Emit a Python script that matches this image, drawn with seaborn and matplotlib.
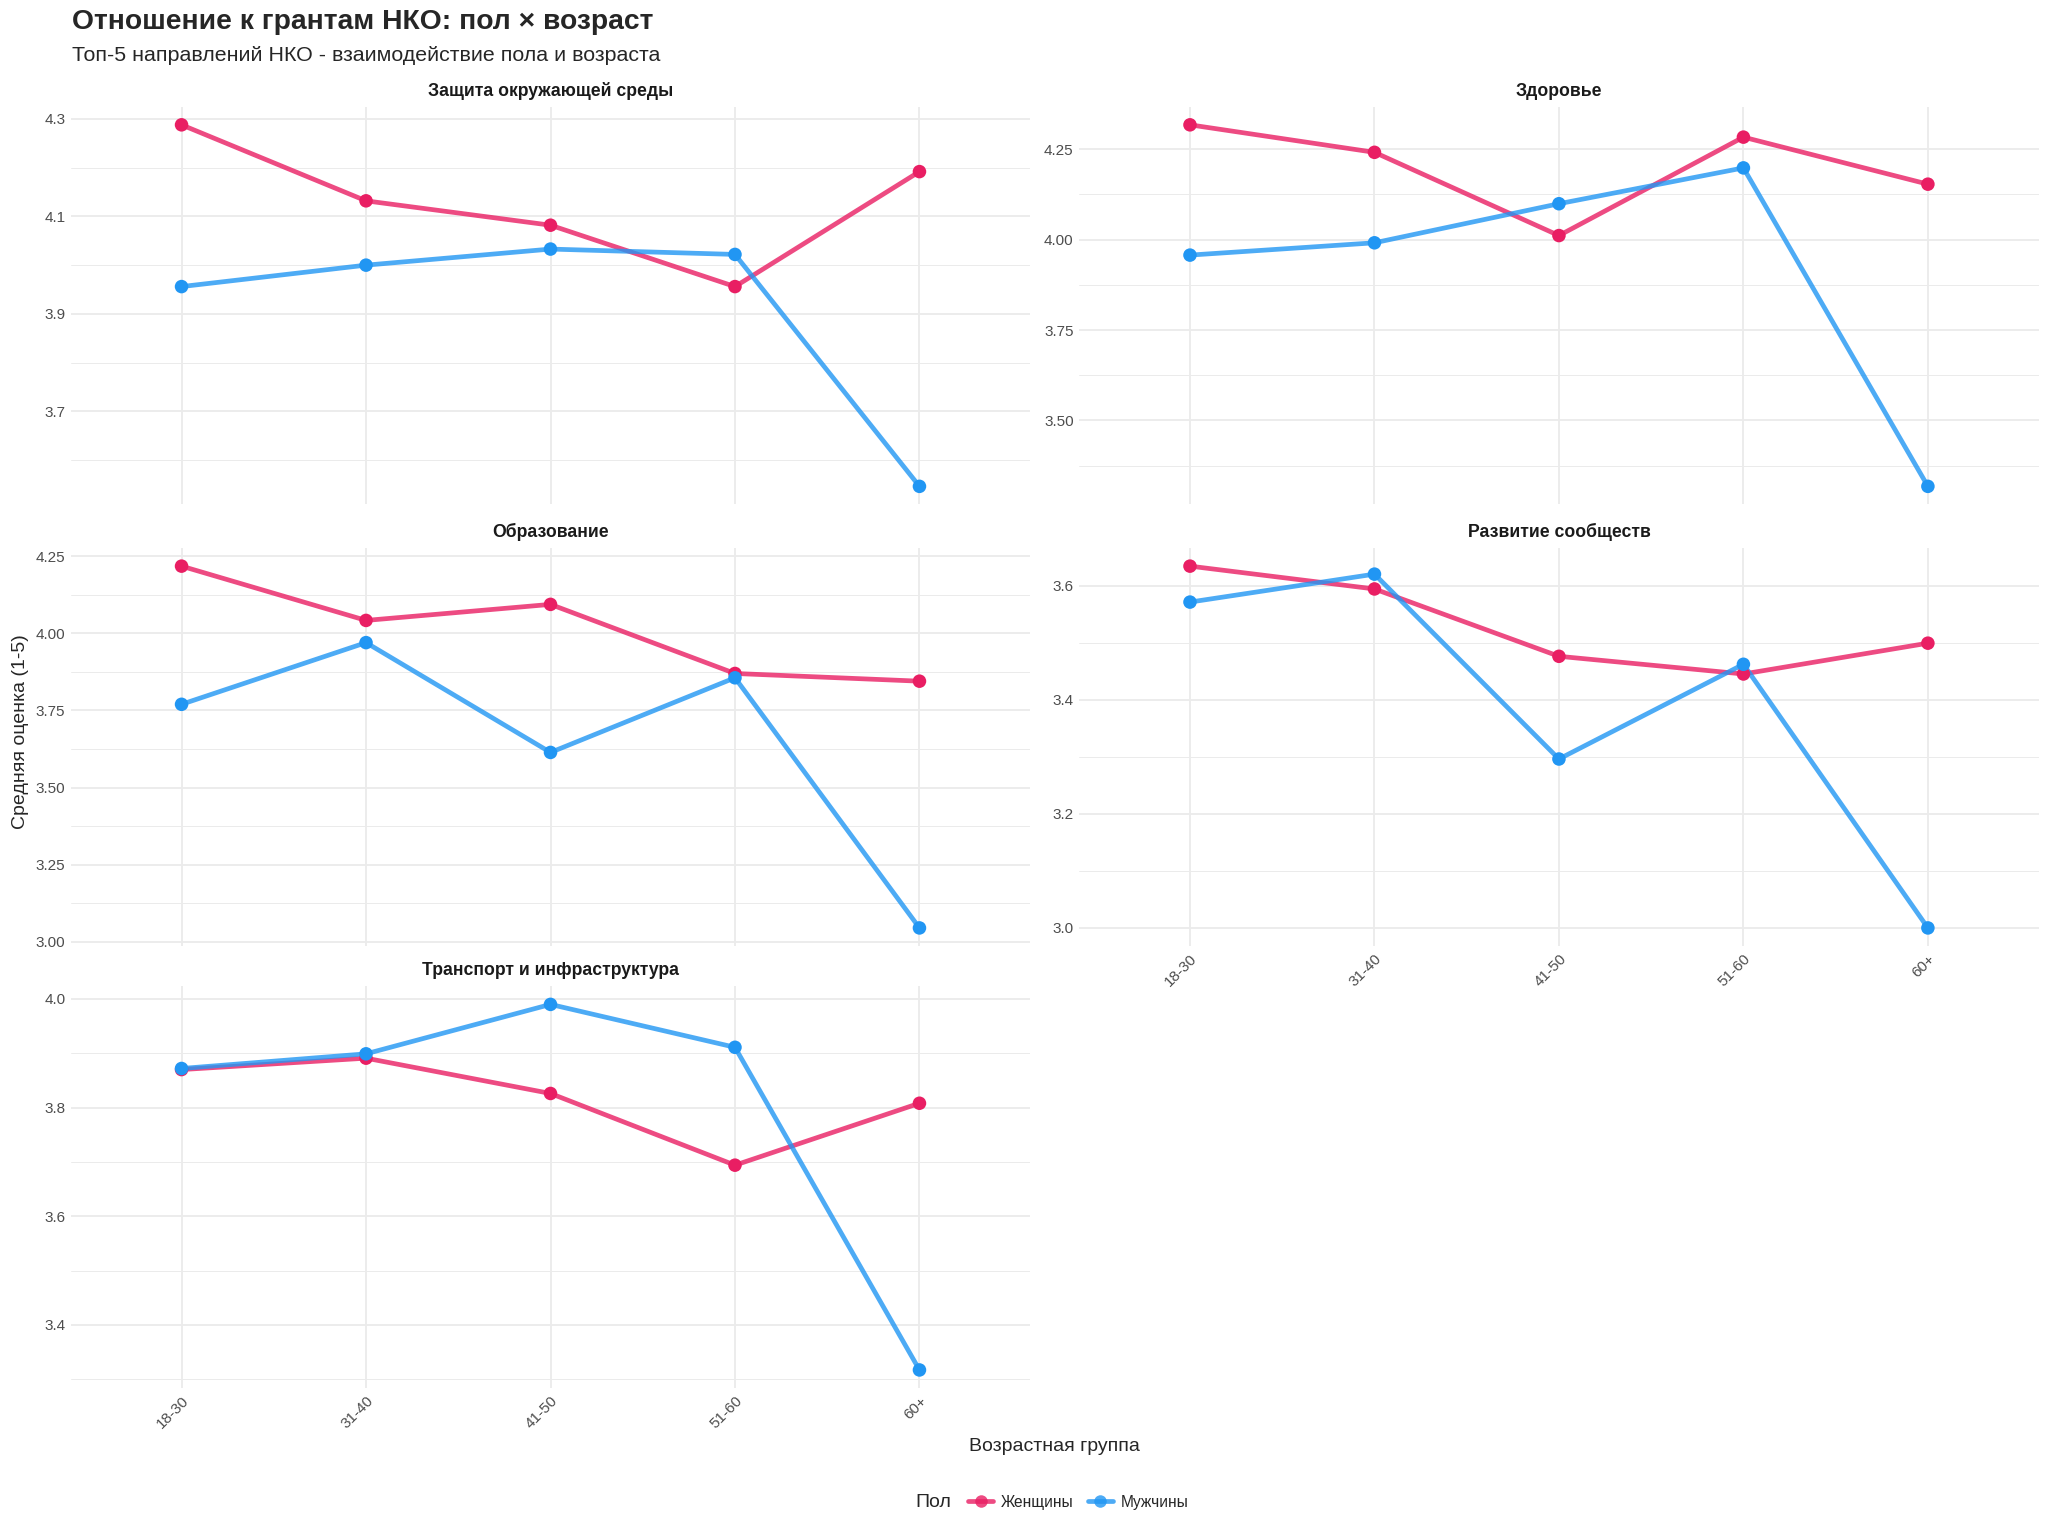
import pandas as pd
import matplotlib.pyplot as plt
import seaborn as sns
from matplotlib.lines import Line2D
from matplotlib.ticker import MultipleLocator, AutoMinorLocator, FormatStrFormatter

# age groups and top-5 NGO directions
ages = ['18-30', '31-40', '41-50', '51-60', '60+']
directions = ['Защита окружающей среды', 'Здоровье', 'Образование',
              'Развитие сообществ', 'Транспорт и инфраструктура']
genders = ['Женщины', 'Мужчины']

# mean score (1-5) per age group
env_women = [4.288, 4.132, 4.082, 3.956, 4.192]
env_men = [3.956, 4.000, 4.033, 4.022, 3.546]
health_women = [4.317, 4.241, 4.011, 4.283, 4.153]
health_men = [3.957, 3.991, 4.099, 4.198, 3.318]
edu_women = [4.218, 4.042, 4.094, 3.870, 3.845]
edu_men = [3.770, 3.970, 3.614, 3.856, 3.045]
comm_women = [3.634, 3.594, 3.476, 3.445, 3.499]
comm_men = [3.571, 3.620, 3.296, 3.462, 3.000]
trans_women = [3.870, 3.891, 3.826, 3.694, 3.808]
trans_men = [3.872, 3.899, 3.990, 3.911, 3.317]

series = {
    directions[0]: (env_women, env_men),
    directions[1]: (health_women, health_men),
    directions[2]: (edu_women, edu_men),
    directions[3]: (comm_women, comm_men),
    directions[4]: (trans_women, trans_men),
}

rows = []
for d in directions:
    for g, vals in zip(genders, series[d]):
        for a, v in zip(ages, vals):
            rows.append({'direction': d, 'gender': g, 'age': a, 'score': v})
df = pd.DataFrame(rows)

palette = {'Женщины': '#E91E63', 'Мужчины': '#2196F3'}
tick_step = [0.2, 0.25, 0.25, 0.2, 0.2]
tick_offset = [0.1, 0.0, 0.0, 0.0, 0.0]
tick_fmt = ['%.1f', '%.2f', '%.2f', '%.1f', '%.1f']

sns.set_theme(style='white')
plt.rcParams['font.family'] = ['Liberation Sans', 'DejaVu Sans']

fig = plt.figure(figsize=(20.48, 15.36), dpi=100)

col_x = [(0.0346, 0.503), (0.527, 0.9954)]
row_y = [(0.6716, 0.9305), (0.3841, 0.6432), (0.0962, 0.358)]

for i, d in enumerate(directions):
    r, c = divmod(i, 2)
    x0, x1 = col_x[c]
    y0, y1 = row_y[r]
    ax = fig.add_axes([x0, y0, x1 - x0, y1 - y0])
    sub = df[df['direction'] == d].copy()
    sub['age'] = pd.Categorical(sub['age'], categories=ages, ordered=True)
    sub = sub.sort_values(['gender', 'age'])
    sub['pos'] = sub['age'].cat.codes

    sns.lineplot(data=sub, x='pos', y='score', hue='gender', palette=palette,
                 hue_order=genders, linewidth=3.4, alpha=0.8, legend=False,
                 ax=ax, zorder=2, sort=False)
    sns.scatterplot(data=sub, x='pos', y='score', hue='gender', palette=palette,
                    hue_order=genders[::-1], s=95, edgecolor='none', legend=False,
                    ax=ax, zorder=3)

    lo, hi = sub['score'].min(), sub['score'].max()
    pad = (hi - lo) * 0.05
    ax.set_ylim(lo - pad, hi + pad)
    ax.set_xlim(-0.6, len(ages) - 0.4)

    ax.yaxis.set_major_locator(MultipleLocator(tick_step[i], offset=tick_offset[i]))
    ax.yaxis.set_minor_locator(AutoMinorLocator(2))
    ax.yaxis.set_major_formatter(FormatStrFormatter(tick_fmt[i]))
    ax.set_xticks(range(len(ages)))
    ax.grid(True, which='major', color='#EBEBEB', linewidth=1.3, zorder=0)
    ax.grid(True, which='minor', axis='y', color='#EBEBEB', linewidth=0.7, zorder=0)
    ax.set_axisbelow(True)
    for s in ax.spines.values():
        s.set_visible(False)
    ax.tick_params(axis='both', which='both', length=0, labelsize=11,
                   labelcolor='#4D4D4D', pad=4)
    ax.set_xlabel('')
    ax.set_ylabel('')
    if i in (3, 4):
        ax.set_xticklabels(ages, rotation=45, ha='right', rotation_mode='anchor')
    else:
        ax.set_xticklabels([])
    ax.set_title(d, fontsize=12.7, fontweight='bold', color='#1A1A1A', pad=8)

fig.text(0.035, 0.9855, 'Отношение к грантам НКО: пол × возраст',
         fontsize=20.3, fontweight='bold', va='center', ha='left')
fig.text(0.035, 0.964, 'Топ-5 направлений НКО - взаимодействие пола и возраста',
         fontsize=15.4, va='center', ha='left')
fig.text(0.515, 0.058, 'Возрастная группа', fontsize=14, ha='center', va='center')
fig.text(0.01, 0.524, 'Средняя оценка (1-5)', fontsize=14, ha='center',
         va='center', rotation=90)

fig.text(0.447, 0.022, 'Пол', fontsize=14, ha='left', va='center')
handles = [Line2D([0], [0], color=palette[g], lw=3.4, alpha=0.8, marker='o',
                  markersize=9, markerfacecolor=palette[g], markeredgewidth=0)
           for g in genders]
fig.legend(handles, genders, loc='center left', bbox_to_anchor=(0.466, 0.022),
           ncol=2, frameon=False, fontsize=11.2, handlelength=1.6,
           handletextpad=0.5, columnspacing=0.9)

plt.savefig('out.png', dpi=100)
